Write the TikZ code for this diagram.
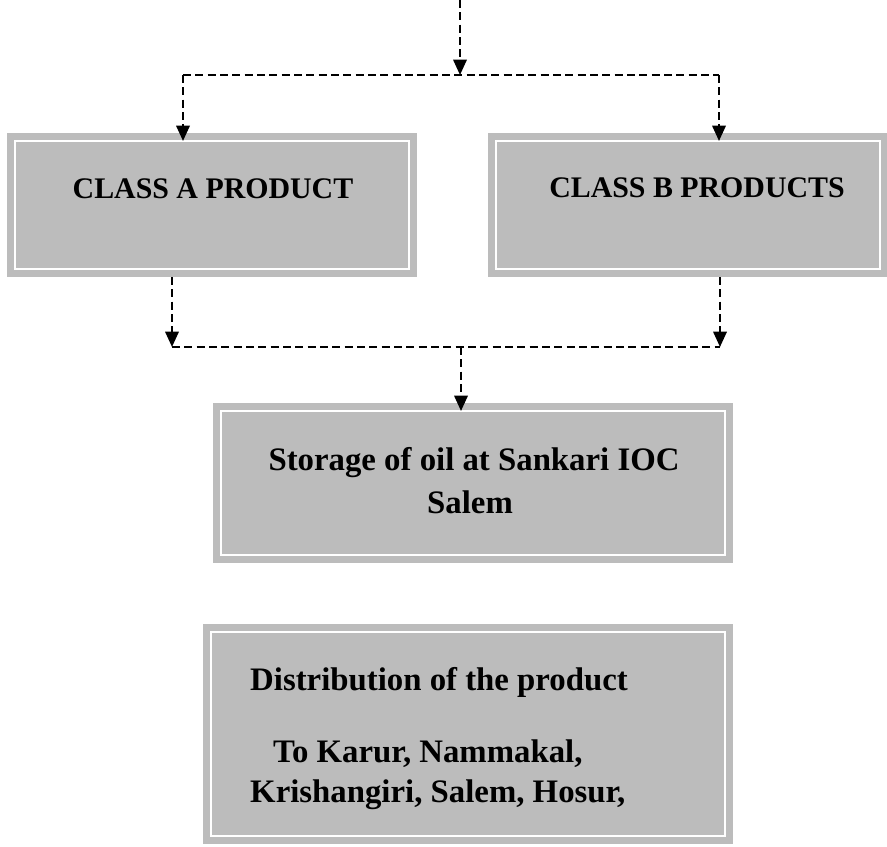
\documentclass[tikz,border=0pt]{standalone}
\usepackage{fontspec}
\setmainfont{Liberation Serif}
\usepackage{tikz}
\usetikzlibrary{positioning,fit,calc}
\usetikzlibrary{arrows.meta}
\definecolor{panelgray}{RGB}{188,188,188}

\begin{document}
\begin{tikzpicture}[
          x=0.3mm,y=-0.3mm,
          panel/.style={draw=panelgray,fill=panelgray,line width=2.1mm,
            double=white,double distance=0.6mm,inner sep=0pt,outer sep=0pt},
          caption/.style={font=\fontsize{25.5}{30}\selectfont\bfseries,inner sep=0pt,anchor=base},
          body/.style={font=\fontsize{28}{34}\selectfont\bfseries,inner sep=0pt},
          flow/.style={dash pattern=on 2.4mm off 1.3mm,line width=2pt},
          tip/.style={-{Triangle[width=4mm,length=4.6mm]}}
          ]
          \useasboundingbox (0,0) rectangle (887,846);
          % the boxes
          \node [panel,fit={(15,141) (409,269)}] (classA) {};
          \node [panel,fit={(496,141) (880,269)}] (classB) {};
          \node [panel,fit={(221,411) (725,555)}] (storage) {};
          \node [panel,fit={(211,632) (725,836)}] (distrib) {};
          % the texts
          \node [caption] (classAtxt) at (213,198) {CLASS A PRODUCT};
          \node [caption] (classBtxt) at (697,197) {CLASS B PRODUCTS};
          \node [body,anchor=base] (storeln1) at (474,470) {Storage of oil at Sankari IOC};
          \node [body,anchor=base] (storeln2) at (470,513) {Salem};
          \node [body,anchor=base west] (distln1) at (250,690) {Distribution of the product};
          \node [body,anchor=base west] (distln2) at (273,762) {To Karur, Nammakal,};
          \node [body,anchor=base west] (distln3) at (250,802) {Krishangiri, Salem, Hosur,};
          % the split on top
          \coordinate (src) at (460,0);
          \coordinate (fork) at (460,75);
          \coordinate (forkL) at (183,75);
          \coordinate (forkR) at (719,75);
          \draw [flow,tip] (src) -- (fork);
          \draw [flow] (forkL) -- (forkR);
          \draw [flow,tip] (forkL) -- (forkL |- classA.north);
          \draw [flow,tip] (forkR) -- (forkR |- classB.north);
          % the join below
          \coordinate (joinL) at (172,347);
          \coordinate (joinR) at (720,347);
          \coordinate (join) at (461,347);
          \draw [flow,tip,shorten <=2.4mm] (joinL |- classA.south) -- (joinL);
          \draw [flow,tip,shorten <=2.4mm] (joinR |- classB.south) -- (joinR);
          \draw [flow] (joinL) -- (joinR);
          \draw [flow,tip] (join) -- (join |- storage.north);
        \end{tikzpicture}
\end{document}
